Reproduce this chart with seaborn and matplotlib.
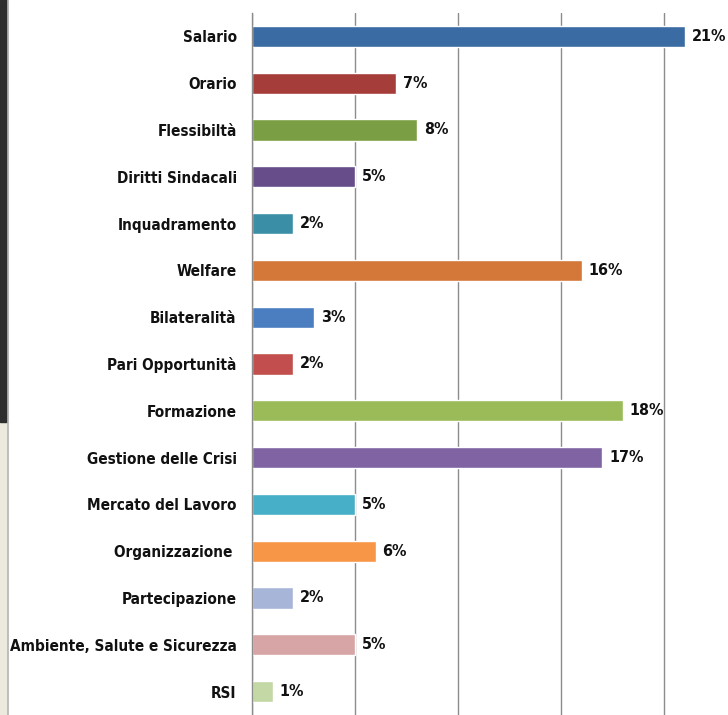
import matplotlib
matplotlib.use("Agg")
import matplotlib.pyplot as plt
import matplotlib.patches as mpatches
import numpy as np
import pandas as pd
import seaborn as sns

# Temi della contrattazione (% sul totale)
temi = [
    "Salario", "Orario", "Flessibiltà", "Diritti Sindacali", "Inquadramento",
    "Welfare", "Bilateralità", "Pari Opportunità", "Formazione",
    "Gestione delle Crisi", "Mercato del Lavoro", "Organizzazione ",
    "Partecipazione", "Ambiente, Salute e Sicurezza", "RSI",
]
percentuali = [21, 7, 8, 5, 2, 16, 3, 2, 18, 17, 5, 6, 2, 5, 1]
colori = [
    "#3B6BA3", "#A53D3B", "#7A9E43", "#674E8A", "#3A8EA6",
    "#D4783A", "#4A7EC0", "#C24F4D", "#9BBB59", "#7F63A3",
    "#48AFC8", "#F79646", "#A7B6D8", "#D8A5A6", "#C4D8A6",
]

df = pd.DataFrame({"tema": temi, "valore": percentuali})

sns.set_theme(style="white")
plt.rcParams["font.family"] = ["DejaVu Sans"]
plt.rcParams["font.stretch"] = "condensed"

W, H = 728, 715
fig = plt.figure(figsize=(W / 100, H / 100), dpi=100)
fig.patch.set_facecolor("white")

# striscia scura e beige sul bordo sinistro
fig.add_artist(mpatches.Rectangle((0, 0), 7 / W, 1, transform=fig.transFigure,
                                  color="#ECE9DD", zorder=0))
fig.add_artist(mpatches.Rectangle((0, 1 - 422 / H), 7 / W, 422 / H,
                                  transform=fig.transFigure, color="#2E2E2E", zorder=1))
fig.add_artist(plt.Line2D([7.5 / W, 7.5 / W], [0, 1], transform=fig.transFigure,
                          color="#B5B5B5", lw=1.2, zorder=2))

ax_left = 252 / W
ax_top = 13 / H
ax = fig.add_axes([ax_left, 0, 1 - ax_left, 1 - ax_top])

sns.barplot(data=df, y="tema", x="valore", hue="tema", palette=colori,
            legend=False, orient="h", width=0.45, ax=ax, saturation=1)

ax.set_xlim(0, (W - 252) / 20.6)
ax.set_ylim(len(temi) - 1 + 18 / 47.14, -0.5)
ax.set_xticks([0, 5, 10, 15, 20])
ax.set_xticklabels([])
ax.tick_params(axis="x", length=0)
ax.grid(axis="x", color="#8C8C8C", lw=1)
ax.set_axisbelow(True)
ax.set_xlabel("")
ax.set_ylabel("")

for side in ["top", "right", "bottom"]:
    ax.spines[side].set_visible(False)
ax.spines["left"].set_color("#8C8C8C")
ax.spines["left"].set_linewidth(1)

ax.set_yticks(range(len(temi)))
ax.set_yticklabels(temi, fontsize=11, fontweight="bold", color="#111111",
                   fontstretch="condensed")
ax.tick_params(axis="y", which="major", length=0, pad=11)
ax.set_yticks(np.arange(-0.5, len(temi), 1), minor=True)
ax.tick_params(axis="y", which="minor", length=5, width=1, color="#8C8C8C",
               direction="out")

for i, v in enumerate(percentuali):
    ax.annotate(f"{v}%", (v, i), xytext=(5, 0), textcoords="offset points",
                va="center", ha="left", fontsize=11.5, fontweight="bold",
                fontstretch="condensed", color="#111111", annotation_clip=False)

fig.savefig("out.png", dpi=100)
